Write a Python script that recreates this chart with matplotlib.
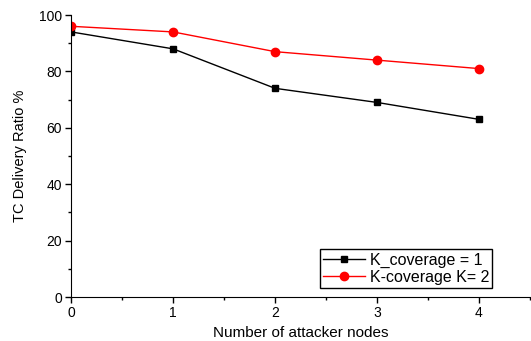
import matplotlib
matplotlib.use('Agg')
from matplotlib import pyplot as plt
from matplotlib.ticker import MultipleLocator

plt.rcParams['font.family'] = ['Liberation Sans', 'DejaVu Sans']

attackers = [0, 1, 2, 3, 4]
k1 = [94, 88, 74, 69, 63]
k2 = [96, 94, 87, 84, 81]

fig = plt.figure(figsize=(5.31, 3.41), dpi=100)
ax = fig.add_axes([0.134, 0.129, 0.864, 0.827])

ax.plot(attackers, k1, color='black', marker='s', markersize=5, lw=1, label='K_coverage = 1')
ax.plot(attackers, k2, color='red', marker='o', markersize=6, lw=1, label='K-coverage K= 2')

ax.set_xlim(0, 4.5)
ax.set_ylim(0, 100)
ax.xaxis.set_major_locator(MultipleLocator(1))
ax.xaxis.set_minor_locator(MultipleLocator(0.5))
ax.yaxis.set_major_locator(MultipleLocator(20))
ax.yaxis.set_minor_locator(MultipleLocator(10))
ax.tick_params(which='major', length=4, width=1, labelsize=10, pad=2.5)
ax.tick_params(which='minor', length=2, width=1)
ax.spines['top'].set_visible(False)
ax.spines['right'].set_visible(False)

ax.set_xlabel('Number of attacker nodes', fontsize=11, labelpad=4)
ax.set_ylabel('TC Delivery Ratio %', fontsize=10.5, labelpad=9)

leg = ax.legend(loc='lower right', bbox_to_anchor=(0.925, 0.02), fontsize=11.5,
                fancybox=False, framealpha=1, edgecolor='black',
                borderpad=0.2, labelspacing=0.15, handlelength=2.6, handletextpad=0.3,
                borderaxespad=0.2)
leg.get_frame().set_linewidth(1)

fig.savefig('out.png', dpi=100)
